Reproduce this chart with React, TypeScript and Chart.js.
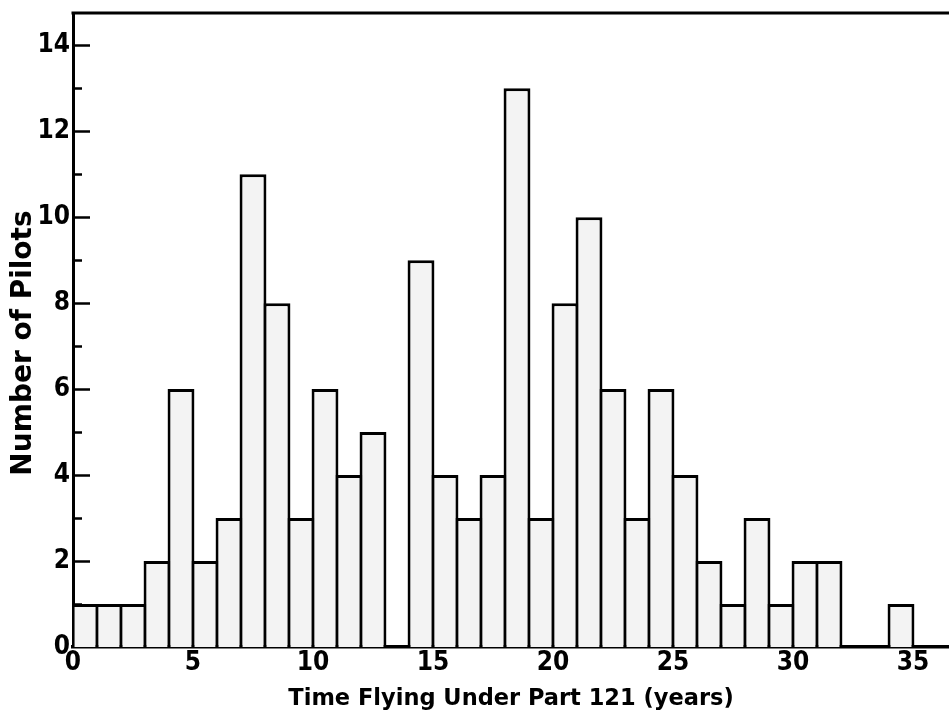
import React, { useEffect, useRef } from "react";
import { Chart, registerables } from "chart.js";

Chart.register(...registerables);

// Histogram bins (start of each 1-year bin) and counts of pilots
const binStarts = [0, 1, 2, 3, 4, 5, 6, 7, 8, 9, 10, 11, 12, 13, 14, 15, 16, 17, 18, 19, 20, 21, 22, 23, 24, 25, 26, 27, 28, 29, 30, 31, 32, 33, 34];
const pilotCounts = [1, 1, 1, 2, 6, 2, 3, 11, 8, 3, 6, 4, 5, 0, 9, 4, 3, 4, 13, 3, 8, 10, 6, 3, 6, 4, 2, 1, 3, 1, 2, 2, 0, 0, 1];
const binWidth = 1;

const xTickStep = 5;
const yTickStep = 1;
const yLabelEvery = 2;

const xAxisTitle = "Time Flying Under Part 121 (years)";
const yAxisTitle = "Number of Pilots";

const X_MIN = 0;
const X_MAX = 36.5;
const Y_MIN = 0;
const Y_MAX = 14.75;

const tickFont = {
  family: "'Liberation Sans Narrow', 'DejaVu Sans Condensed', 'Liberation Sans', sans-serif",
  weight: "bold" as const,
  size: 26,
};

const decorPlugin = {
  id: "decor",
  afterDraw(chart: any) {
    const { ctx, chartArea, scales } = chart;
    const y = scales.y;
    ctx.save();
    ctx.strokeStyle = "#000";
    // top frame line
    ctx.lineWidth = 3;
    ctx.beginPath();
    ctx.moveTo(chartArea.left - 1.5, chartArea.top);
    ctx.lineTo(chartArea.right, chartArea.top);
    ctx.stroke();
    // inward y ticks (major on labelled values, minor otherwise)
    ctx.lineWidth = 2.5;
    y.ticks.forEach((t: any) => {
      if (t.value === 0) return;
      const py = Math.round(y.getPixelForValue(t.value)) + 0.5;
      const len = t.value % yLabelEvery === 0 ? 17 : 9;
      ctx.beginPath();
      ctx.moveTo(chartArea.left, py);
      ctx.lineTo(chartArea.left + len, py);
      ctx.stroke();
    });
    // y axis title
    ctx.translate(24, 343);
    ctx.rotate(-Math.PI / 2);
    ctx.font = "bold 28px 'DejaVu Sans', sans-serif";
    ctx.textAlign = "center";
    ctx.textBaseline = "middle";
    ctx.fillStyle = "#000";
    ctx.fillText(yAxisTitle, 0, 0);
    ctx.restore();
  },
};

export default function App() {
  const canvasRef = useRef<HTMLCanvasElement | null>(null);

  useEffect(() => {
    document.body.style.margin = "0";
    const canvas = canvasRef.current;
    if (!canvas) return;
    const points = binStarts.map((s, i) => ({ x: s + binWidth / 2, y: pilotCounts[i] }));
    const chart = new Chart(canvas, {
      type: "bar",
      data: {
        datasets: [
          {
            data: points as any,
            backgroundColor: "#f3f3f3",
            borderColor: "#000",
            borderWidth: (c: any) => (c.raw && c.raw.y === 0 ? 0 : 3),
            borderSkipped: "bottom",
            barPercentage: 1.12,
            categoryPercentage: 1,
          },
        ],
      },
      options: {
        animation: false,
        responsive: false,
        devicePixelRatio: 1,
        layout: { padding: { top: 13, left: 0, right: 0, bottom: 0 } },
        plugins: {
          legend: { display: false },
          tooltip: { enabled: false },
        },
        scales: {
          x: {
            type: "linear",
            min: X_MIN,
            max: X_MAX,
            offset: false,
            z: 1,
            afterFit: (s: any) => {
              s.height = 70;
              s.paddingLeft = 0;
              s.paddingRight = 0;
            },
            grid: { display: false, drawTicks: false, offset: false },
            border: { display: true, color: "#000", width: 3.5 },
            ticks: {
              stepSize: xTickStep,
              includeBounds: false,
              autoSkip: false,
              maxRotation: 0,
              padding: 1,
              color: "#000",
              font: tickFont,
            },
            title: {
              display: true,
              text: xAxisTitle,
              color: "#000",
              font: { family: "'DejaVu Sans', sans-serif", weight: "bold", size: 22.5, lineHeight: 1.2 },
              padding: { top: 0, bottom: 4.5 },
            },
          },
          y: {
            min: Y_MIN,
            max: Y_MAX,
            z: 1,
            afterFit: (s: any) => {
              s.width = 73;
              s.paddingTop = 0;
              s.paddingBottom = 0;
            },
            grid: { display: false, drawTicks: false },
            border: { display: true, color: "#000", width: 3 },
            ticks: {
              stepSize: yTickStep,
              includeBounds: false,
              autoSkip: false,
              padding: 3,
              color: "#000",
              font: tickFont,
              callback: (v: any) => (Number(v) % yLabelEvery === 0 ? String(v) : ""),
            },
          },
        },
      },
      plugins: [decorPlugin],
    });
    return () => chart.destroy();
  }, []);

  return (
    <canvas
      ref={canvasRef}
      width={949}
      height={717}
      style={{ display: "block", width: 949, height: 717 }}
    />
  );
}
